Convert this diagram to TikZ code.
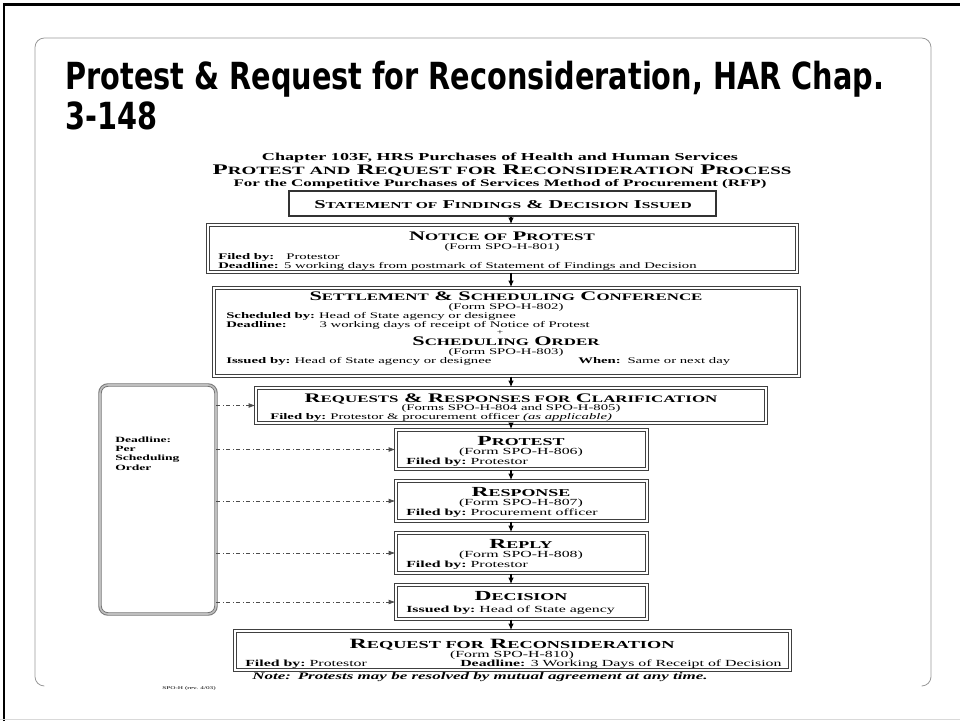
\documentclass[tikz,border=0pt]{standalone}
\usepackage{fontspec}
\usetikzlibrary{fit,arrows.meta}
\newfontfamily\titlefont[FakeStretch=0.77]{DejaVu Sans}
\newfontfamily\chartfont[FakeStretch=1.7]{Liberation Serif}
\makeatletter
\newcommand\scpart[1]{{\fontsize{\fpeval{0.76*\f@size}}{\f@baselineskip}\selectfont #1}}
\makeatother
\tikzset{
        box/.style={draw=black!75, double=white, double distance=1pt, line width=0.9pt, inner sep=0pt},
        thinbox/.style={draw=black!80, line width=1.2pt, inner sep=0pt},
        sidebox/.style={draw=black!55, double=black!25, double distance=1.2pt, line width=0.7pt, rounded corners=6pt, inner sep=0pt},
        txt/.style={inner sep=0pt, font=\chartfont\fontsize{6.5}{7}\selectfont},
        txtl/.style={inner sep=0pt, font=\chartfont\fontsize{7}{8}\selectfont},
        hd/.style={inner sep=0pt, font=\chartfont\bfseries\fontsize{9.8}{10}\selectfont},
        hdl/.style={inner sep=0pt, font=\chartfont\bfseries\fontsize{10.4}{11}\selectfont},
        flow/.style={draw, line width=0.9pt, -{Latex[length=5pt,width=4pt]}},
        feed/.style={draw=black!70, line width=0.5pt, dash dot, -{Latex[length=5pt,width=3.5pt]}}
}
\begin{document}
\begin{tikzpicture}[x=0.75pt,y=-0.75pt]
        \useasboundingbox (0,0) rectangle (960,721);
        % slide frame
        \path[draw=black, line width=2.2pt] (4,721) -- (4,4.5) -- (960,4.5);
        \path[draw=black!15, line width=0.8pt] (0,719.5) -- (960,719.5);
        \path[draw=black!40, line width=0.6pt, rounded corners=7pt] (44,686) -- (35,686) -- (35,38) -- (931,38) -- (931,686) -- (922,686);

        \node[anchor=base west, inner sep=0pt, font=\titlefont\bfseries\fontsize{28}{32}\selectfont] (title1) at (65,89) {Protest \& Request for Reconsideration, HAR Chap.};
        \node[anchor=base west, inner sep=0pt, font=\titlefont\bfseries\fontsize{28}{32}\selectfont] (title2) at (65,129) {3-148};

        % chart heading
        \node[anchor=base, inner sep=0pt, font=\chartfont\bfseries\fontsize{8}{9}\selectfont] (chap) at (500,160) {Chapter 103F, HRS Purchases of Health and Human Services};
        \node[anchor=base, inner sep=0pt, font=\chartfont\bfseries\fontsize{11}{12}\selectfont] (process) at (502,174) {P\scpart{ROTEST AND} R\scpart{EQUEST FOR} R\scpart{ECONSIDERATION} P\scpart{ROCESS}};
        \node[anchor=base, inner sep=0pt, font=\chartfont\bfseries\fontsize{7.5}{8}\selectfont] (method) at (500,186) {For the Competitive Purchases of Services Method of Procurement (RFP)};

        % boxes
        \node[thinbox, fit={(289,191) (716,216)}] (statement) {};
        \node[box, fit={(208,225) (797,272)}] (notice) {};
        \node[box, fit={(214,288) (799,376)}] (settle) {};
        \node[box, fit={(256,388) (766,423)}] (clarify) {};
        \node[box, fit={(396,430) (647,469)}] (protest) {};
        \node[box, fit={(396,481) (647,521)}] (response) {};
        \node[box, fit={(396,533) (647,573)}] (reply) {};
        \node[box, fit={(396,585) (647,619)}] (decision) {};
        \node[box, fit={(235,631) (790,670)}] (recon) {};
        \node[sidebox, fit={(100,385) (216,614)}] (deadline) {};

        % box texts
        \node[hd, anchor=base, font=\chartfont\bfseries\fontsize{9}{9}\selectfont] (t0) at (503,208) {S\scpart{TATEMENT OF} F\scpart{INDINGS} \& D\scpart{ECISION} I\scpart{SSUED}};

        \node[hd, anchor=base] (t1) at (502,240) {N\scpart{OTICE OF} P\scpart{ROTEST}};
        \node[txt, anchor=base] (f1) at (502,249.5) {(Form SPO-H-801)};
        \node[txt, anchor=base west] (b1) at (218,259) {\textbf{Filed by:}\hspace{9pt}Protestor};
        \node[txt, anchor=base west] (c1) at (218,268) {\textbf{Deadline:}\hspace{4pt}5 working days from postmark of Statement of Findings and Decision};

        \node[hd, anchor=base] (t2) at (506,300) {S\scpart{ETTLEMENT} \& S\scpart{CHEDULING} C\scpart{ONFERENCE}};
        \node[txt, anchor=base] (f2) at (506,309.5) {(Form SPO-H-802)};
        \node[txt, anchor=base west] (b2) at (226,318.5) {\textbf{Scheduled by:}\hspace{3pt}Head of State agency or designee};
        \node[txt, anchor=base west] (c2) at (226,327) {\makebox[70pt][l]{\textbf{Deadline:}}3 working days of receipt of Notice of Protest};
        \node[txt, anchor=base, font=\chartfont\fontsize{5}{5}\selectfont] (plus) at (500,334.5) {+};
        \node[hd, anchor=base] (t3) at (506,345) {S\scpart{CHEDULING} O\scpart{RDER}};
        \node[txt, anchor=base] (f3) at (506,354) {(Form SPO-H-803)};
        \node[txt, anchor=base west] (b3) at (226,363) {\makebox[264pt][l]{\textbf{Issued by:}\hspace{3pt}Head of State agency or designee}\textbf{When:}\hspace{5pt}Same or next day};

        \node[hd, anchor=base] (t4) at (511,402) {R\scpart{EQUESTS} \& R\scpart{ESPONSES FOR} C\scpart{LARIFICATION}};
        \node[txt, anchor=base] (f4) at (511,410.5) {(Forms SPO-H-804 and SPO-H-805)};
        \node[txt, anchor=base west] (b4) at (270,419) {\textbf{Filed by:}\hspace{3pt}Protestor \& procurement officer \textit{(as applicable)}};

        \node[hdl, anchor=base] (t5) at (521,445) {P\scpart{ROTEST}};
        \node[txtl, anchor=base] (f5) at (521,454.5) {(Form SPO-H-806)};
        \node[txtl, anchor=base west] (b5) at (406,464) {\textbf{Filed by:}\hspace{3pt}Protestor};

        \node[hdl, anchor=base] (t6) at (521,496) {R\scpart{ESPONSE}};
        \node[txtl, anchor=base] (f6) at (521,505.5) {(Form SPO-H-807)};
        \node[txtl, anchor=base west] (b6) at (406,515) {\textbf{Filed by:}\hspace{3pt}Procurement officer};

        \node[hdl, anchor=base] (t7) at (521,548) {R\scpart{EPLY}};
        \node[txtl, anchor=base] (f7) at (521,557.5) {(Form SPO-H-808)};
        \node[txtl, anchor=base west] (b7) at (406,567) {\textbf{Filed by:}\hspace{3pt}Protestor};

        \node[hdl, anchor=base] (t8) at (521,600) {D\scpart{ECISION}};
        \node[txtl, anchor=base west] (b8) at (406,612) {\textbf{Issued by:}\hspace{3pt}Head of State agency};

        \node[hd, anchor=base, font=\chartfont\bfseries\fontsize{10.6}{11}\selectfont] (t9) at (512,648) {R\scpart{EQUEST FOR} R\scpart{ECONSIDERATION}};
        \node[txtl, anchor=base] (f9) at (512,657.5) {(Form SPO-H-810)};
        \node[txtl, anchor=base west] (b9) at (245,666) {\textbf{Filed by:}\hspace{3pt}Protestor};
        \node[txtl, anchor=base west] (c9) at (460,666) {\textbf{Deadline:}\hspace{4pt}3 Working Days of Receipt of Decision};

        \node[anchor=base, inner sep=0pt, font=\chartfont\bfseries\itshape\fontsize{7.5}{8}\selectfont] (note) at (480,679) {Note:\hspace{5pt}Protests may be resolved by mutual agreement at any time.};
        \node[anchor=base west, inner sep=0pt, font=\chartfont\fontsize{3.2}{4}\selectfont] (rev) at (162,689) {SPO-H (rev. 4/03)};

        \node[txt, anchor=base west, align=left, font=\chartfont\bfseries\fontsize{6}{6.8}\selectfont] (dl) at (115,470) {Deadline:\\Per\\Scheduling\\Order};

        % arrows
        \coordinate (ax) at (511,0);
        \foreach \a/\b in {statement/notice, notice/settle, settle/clarify, clarify/protest, protest/response, response/reply, reply/decision, decision/recon}
                \path[flow] (\a.south -| ax) -- (\b.north -| ax);
        \foreach \b in {clarify, protest, response, reply, decision}
                \path[feed] (deadline.east |- \b.west) -- (\b.west);
\end{tikzpicture}
\end{document}
